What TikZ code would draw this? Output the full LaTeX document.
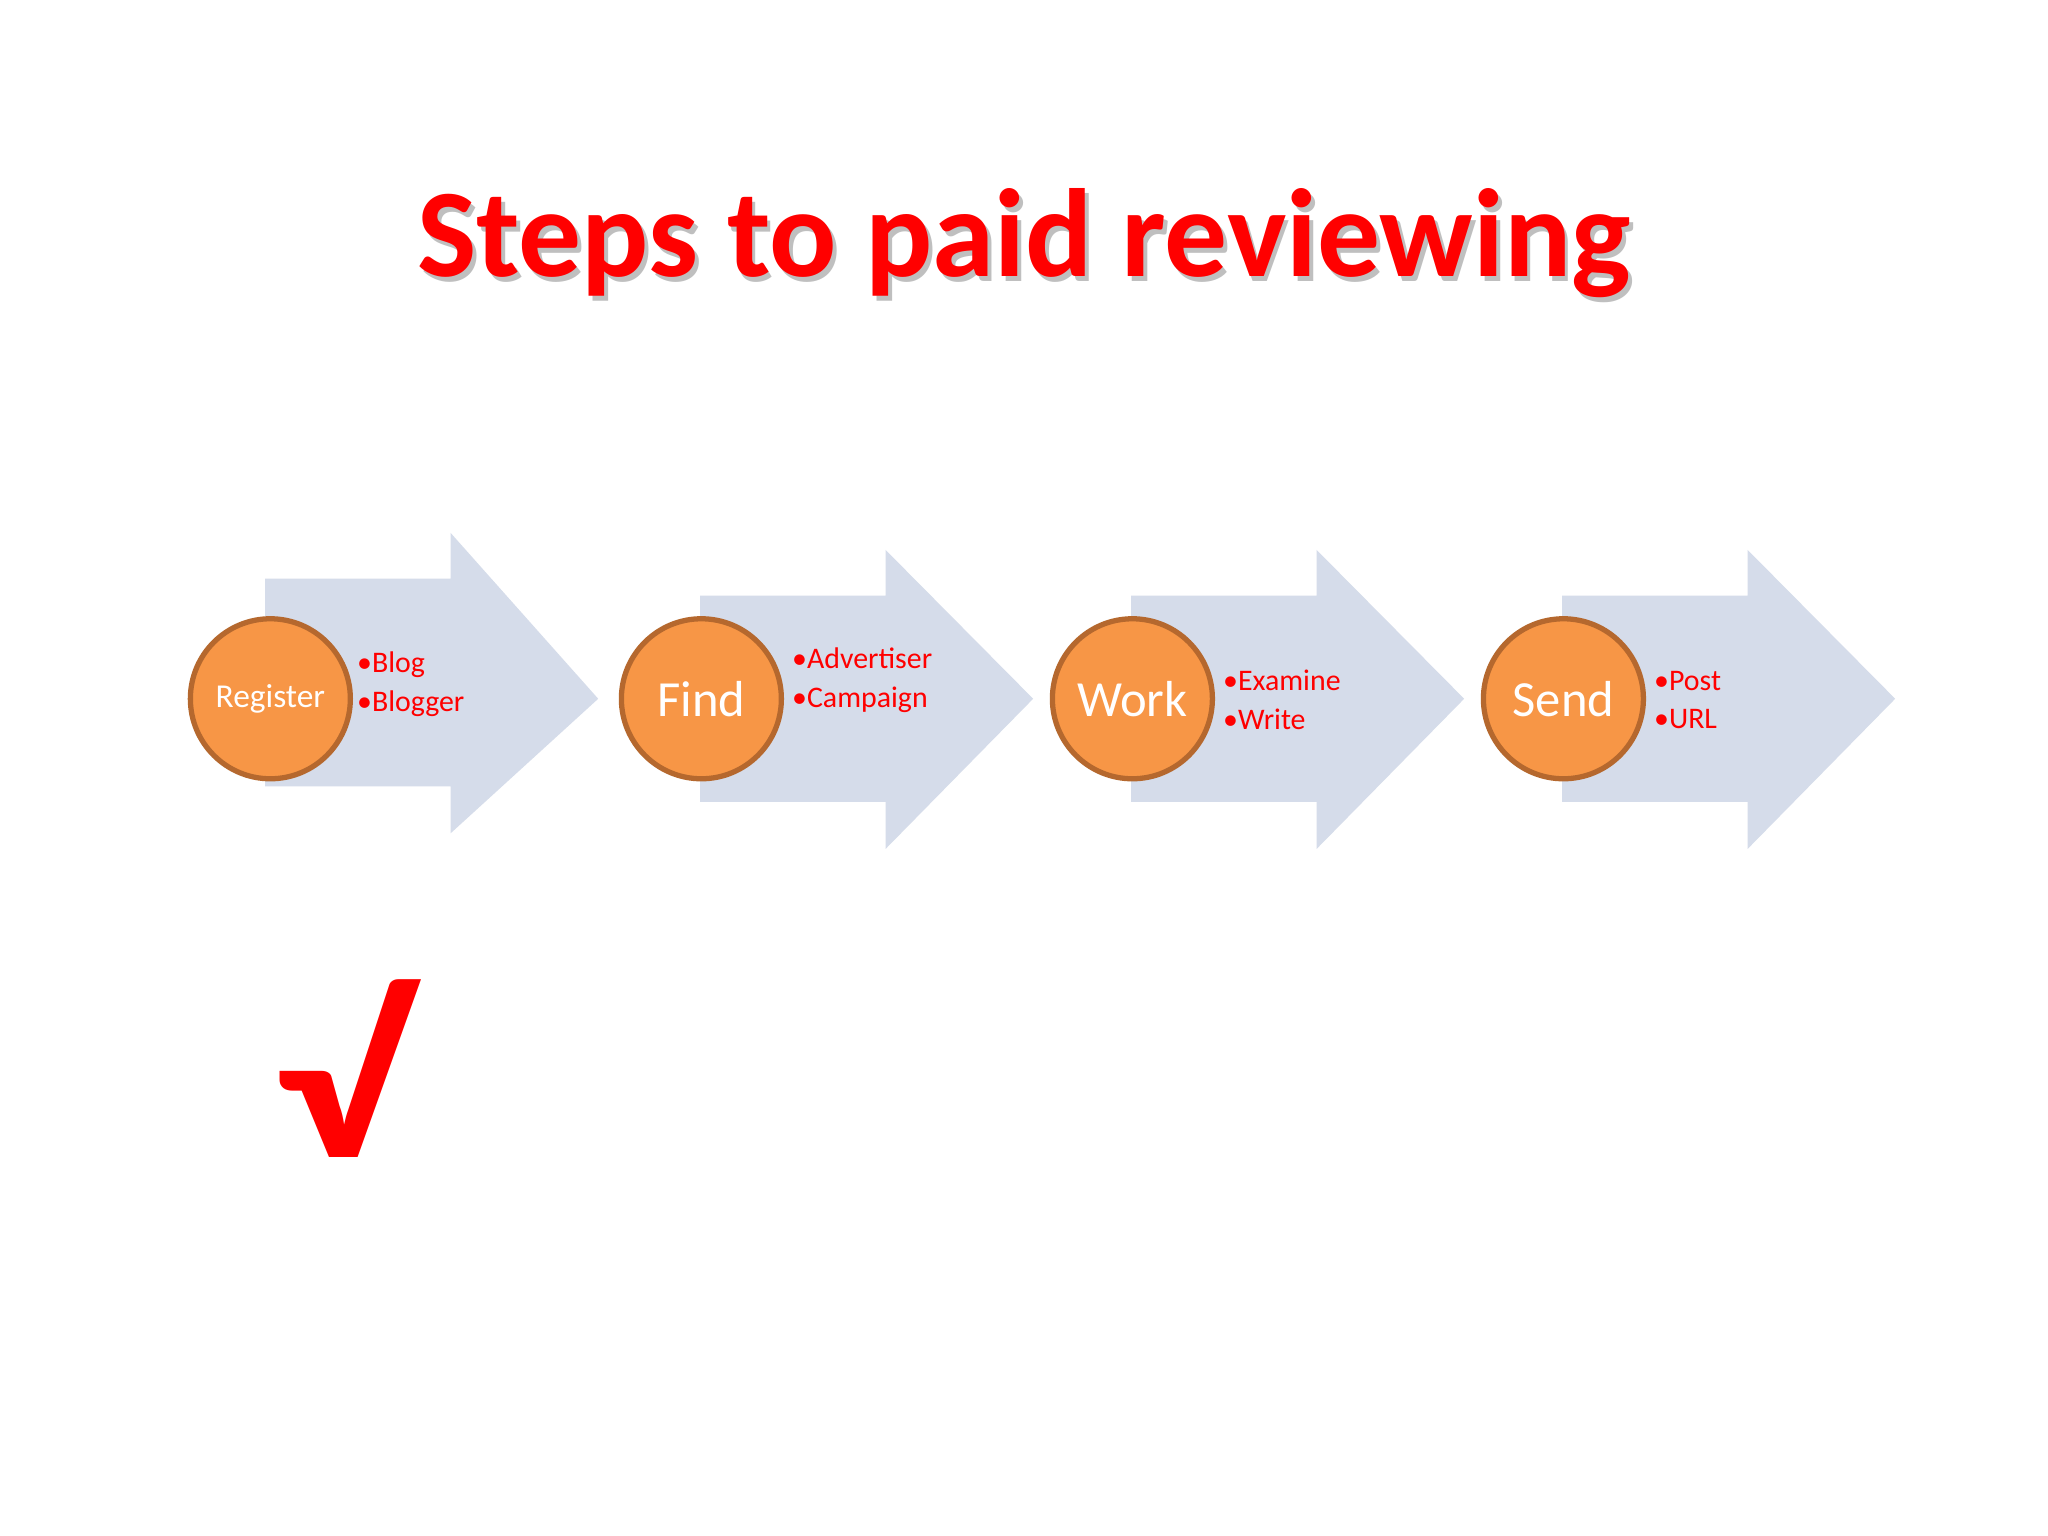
\documentclass[tikz,border=0pt]{standalone}
\usepackage{fontspec}
\setmainfont{Carlito}
\definecolor{arrowblue}{HTML}{D5DCEA}
\definecolor{ballorange}{HTML}{F79646}
\definecolor{balledge}{HTML}{B5682E}
\definecolor{textred}{HTML}{FF0000}
\tikzset{
  stagearrow/.style={fill=arrowblue, draw=none},
  ball/.style={circle, fill=ballorange, draw=balledge, line width=1.5pt, minimum size=1.6cm, inner sep=0pt, text=white},
  items/.style={anchor=west, text=textred, font=\fontsize{8.5}{11}\selectfont, align=left}
}
\begin{document}
\begin{tikzpicture}[x=0.01306cm, y=-0.01306cm]
        \useasboundingbox[fill=white] (0, 0) rectangle (1568, 1176);

        \node[text=black!25] (shadow) at (787, 190) {\fontsize{35.7}{42}\selectfont\bfseries Steps to paid reviewing};
        \node[text=textred] (title) at (784, 186) {\fontsize{35.7}{42}\selectfont\bfseries Steps to paid reviewing};

        \fill[stagearrow] (203, 443) -- (345, 443) -- (345, 408) -- (458, 535) -- (345, 638) -- (345, 602) -- (203, 602) -- cycle;
        \fill[stagearrow] (536, 456) -- (678, 456) -- (678, 421) -- (791, 535) -- (678, 650) -- (678, 614) -- (536, 614) -- cycle;
        \fill[stagearrow] (866, 456) -- (1008, 456) -- (1008, 421) -- (1121, 535) -- (1008, 650) -- (1008, 614) -- (866, 614) -- cycle;
        \fill[stagearrow] (1196, 456) -- (1338, 456) -- (1338, 421) -- (1451, 535) -- (1338, 650) -- (1338, 614) -- (1196, 614) -- cycle;

        \node[ball, font=\fontsize{9.5}{11}\selectfont] (register) at (207, 535) {Register};
        \node[ball, font=\fontsize{14.4}{16}\selectfont] (find) at (537, 535) {Find};
        \node[ball, font=\fontsize{14.4}{16}\selectfont] (work) at (867, 535) {Work};
        \node[ball, font=\fontsize{14.4}{16}\selectfont] (send) at (1197, 535) {Send};

        \node[items] (regitems) at (264, 524) {•Blog\\•Blogger};
        \node[items] (finditems) at (597, 521) {•Advertiser\\•Campaign};
        \node[items] (workitems) at (927, 536) {•Examine\\•Write};
        \node[items] (senditems) at (1257, 536) {•Post\\•URL};

        \node[text=textred, xscale=1.3, yscale=1.05] (check) at (262, 818) {\fontsize{60}{60}\selectfont\bfseries √};
\end{tikzpicture}
\end{document}
